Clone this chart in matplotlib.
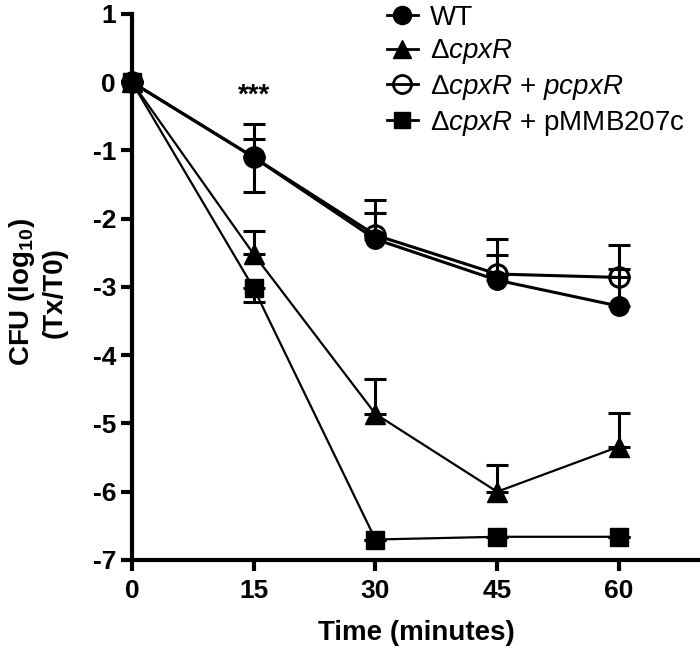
import matplotlib
matplotlib.use("Agg")
import matplotlib.pyplot as plt
from matplotlib.lines import Line2D
import numpy as np

plt.rcParams['font.family'] = ['Liberation Sans', 'DejaVu Sans']
plt.rcParams['mathtext.fontset'] = 'custom'
plt.rcParams['mathtext.rm'] = 'Liberation Sans'
plt.rcParams['mathtext.it'] = 'Liberation Sans:italic'
plt.rcParams['mathtext.bf'] = 'Liberation Sans:bold'
plt.rcParams['axes.unicode_minus'] = False

# data
time = [0, 15, 30, 45, 60]
wt = [0, -1.10, -2.30, -2.90, -3.28]
wt_up = [0, 0.27, 0.38, 0.37, 0.54]
wt_lo = [0, 0.51, 0, 0, 0]
dcpxr = [0, -2.52, -4.86, -6.00, -5.34]
dcpxr_up = [0, 0.34, 0.51, 0.39, 0.49]
comp = [0, -1.10, -2.24, -2.81, -2.86]
comp_up = [0, 0.49, 0.52, 0.52, 0.48]
vec = [0, -3.02, -6.70, -6.66, -6.66]
vec_lo = [0, 0.20, 0, 0, 0]
vec_up = [0, 0, 0, 0, 0]
zero = [0, 0, 0, 0, 0]

labels = ['WT', 'Δ$\\mathit{cpxR}$',
          'Δ$\\mathit{cpxR}$ + $\\mathit{pcpxR}$',
          'Δ$\\mathit{cpxR}$ + pMMB207c']

fig = plt.figure(figsize=(7, 6.51), dpi=100)
ax = fig.add_axes([0.1886, 0.1398, 0.8114, 0.8387])

eb = dict(ecolor='black', elinewidth=2.2, capsize=8, capthick=2.2, color='black')
ax.errorbar(time, comp, yerr=[zero, comp_up], marker='o', ms=14, mfc='none',
            mew=2.2, lw=2.2, **eb)
ax.errorbar(time, wt, yerr=[wt_lo, wt_up], marker='o', ms=14, lw=2.2, **eb)
ax.errorbar(time, dcpxr, yerr=[zero, dcpxr_up], marker='^', ms=14, lw=1.6, **eb)
ax.errorbar(time, vec, yerr=[vec_lo, vec_up], marker='s', ms=13, lw=1.6, **eb)

ax.text(15, -0.2, '***', ha='center', va='center', fontsize=20, fontweight='bold')

ax.set_xlim(0, 70)
ax.set_ylim(-7, 1)
ax.set_xticks([0, 15, 30, 45, 60])
ax.set_yticks(np.arange(-7, 2, 1))
for s in ['top', 'right']:
    ax.spines[s].set_visible(False)
for s in ['left', 'bottom']:
    ax.spines[s].set_linewidth(3)
ax.tick_params(width=3, length=8, labelsize=19)
ax.tick_params(axis='x', pad=6)
for lab in ax.get_xticklabels() + ax.get_yticklabels():
    lab.set_fontweight('bold')
for art in ax.get_children():
    art.set_clip_on(False)

ax.set_xlabel('Time (minutes)', fontsize=20, fontweight='bold', labelpad=12)
ax.set_ylabel('CFU (log$_{\\mathbf{10}}$)\n(Tx/T0)', fontsize=20, fontweight='bold',
              linespacing=1.2)
ax.yaxis.set_label_coords(-0.114, 0.49)

handles = [
    Line2D([], [], color='black', lw=2, marker='o', ms=13),
    Line2D([], [], color='black', lw=2, marker='^', ms=13),
    Line2D([], [], color='black', lw=2, marker='o', ms=13, mfc='none', mew=2),
    Line2D([], [], color='black', lw=2, marker='s', ms=12),
]
ax.legend(handles, labels, loc='upper left', frameon=False,
          bbox_to_anchor=(0.405, 1.063), fontsize=20, handlelength=1.1,
          handletextpad=0.45, labelspacing=0.24)

fig.savefig('out.png', dpi=100)
